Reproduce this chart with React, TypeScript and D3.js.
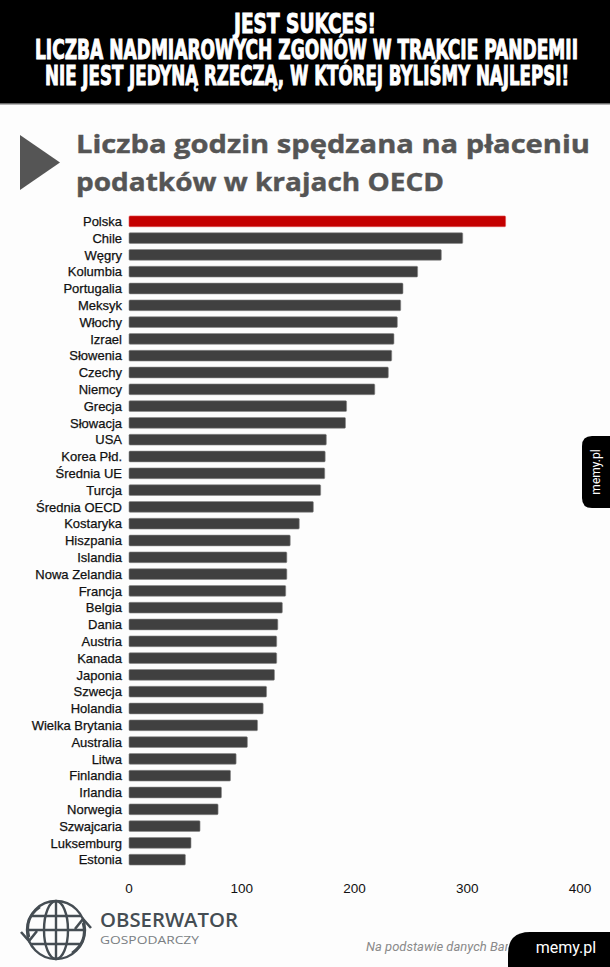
import React from "react";
import * as d3 from "d3";

const headerLines = [
  "JEST SUKCES!",
  "LICZBA NADMIAROWYCH ZGONÓW W TRAKCIE PANDEMII",
  "NIE JEST JEDYNĄ RZECZĄ, W KTÓREJ BYLIŚMY NAJLEPSI!",
];
const titleLines = ["Liczba godzin spędzana na płaceniu", "podatków w krajach OECD"];

const countries = [
  "Polska", "Chile", "Węgry", "Kolumbia", "Portugalia", "Meksyk", "Włochy", "Izrael",
  "Słowenia", "Czechy", "Niemcy", "Grecja", "Słowacja", "USA", "Korea Płd.", "Średnia UE",
  "Turcja", "Średnia OECD", "Kostaryka", "Hiszpania", "Islandia", "Nowa Zelandia", "Francja",
  "Belgia", "Dania", "Austria", "Kanada", "Japonia", "Szwecja", "Holandia", "Wielka Brytania",
  "Australia", "Litwa", "Finlandia", "Irlandia", "Norwegia", "Szwajcaria", "Luksemburg", "Estonia",
];
const hours = [
  334, 296, 277, 256, 243, 241, 238, 235,
  233, 230, 218, 193, 192, 175, 174, 173.6,
  170, 163.5, 151, 143, 140, 140, 139,
  136, 132, 131, 131, 129, 122, 119, 114,
  105, 95, 90, 82, 79, 63, 55, 50,
];
const highlight = ["Polska"];
const xTicks = [0, 100, 200, 300, 400];

export default function App() {
  const W = 610;
  const H = 967;
  const x = d3.scaleLinear().domain([0, 400]).range([129, 580]);
  const y = d3
    .scaleBand<string>()
    .domain(countries)
    .range([212.9, 868.1])
    .paddingInner(0.36)
    .paddingOuter(0.18);

  const headerFont = "'DejaVu Sans Condensed', 'Liberation Sans Narrow', 'Liberation Sans', sans-serif";
  const headerSpecs = [
    { x0: 234, x1: 376, base: 33 },
    { x0: 35, x1: 578, base: 59 },
    { x0: 45, x1: 569, base: 85 },
  ];
  const sx = 0.75;
  const sy = 1.22;

  return (
    <svg
      width={W}
      height={H}
      style={{ position: "absolute", left: 0, top: 0, background: "#fdfdfd" }}
    >
      <defs>
        <clipPath id="srcClip">
          <rect x={300} y={930} width={208} height={37} />
        </clipPath>
      </defs>
      <rect x={0} y={0} width={W} height={H} fill="#fdfdfd" />
      {/* header */}
      <rect x={0} y={0} width={W} height={103} fill="#000" />
      <rect x={0} y={103} width={W} height={1.5} fill="#6a6a6a" />
      {headerLines.map((t, i) => {
        const s = headerSpecs[i];
        return (
          <text
            key={i}
            transform={`translate(${s.x0},${s.base}) scale(${sx},${sy})`}
            x={0}
            y={0}
            textLength={(s.x1 - s.x0) / sx}
            lengthAdjust="spacingAndGlyphs"
            fill="#fff"
            stroke="#fff"
            strokeWidth={0.8}
            fontFamily={headerFont}
            fontWeight="bold"
            fontSize={21.5}
          >
            {t}
          </text>
        );
      })}

      {/* title */}
      <polygon points="20,135 60,162.5 20,190" fill="#555" />
      <text
        x={76}
        y={153}
        textLength={514}
        lengthAdjust="spacingAndGlyphs"
        fill="#555"
        stroke="#555"
        strokeWidth={0.4}
        fontFamily="'Open Sans', sans-serif"
        fontWeight="bold"
        fontSize={25}
      >
        {titleLines[0]}
      </text>
      <text
        x={76}
        y={191}
        textLength={368}
        lengthAdjust="spacingAndGlyphs"
        fill="#555"
        stroke="#555"
        strokeWidth={0.4}
        fontFamily="'Open Sans', sans-serif"
        fontWeight="bold"
        fontSize={25}
      >
        {titleLines[1]}
      </text>

      {/* bars */}
      {countries.map((c, i) => {
        const isHi = highlight.includes(c);
        return (
          <g key={c}>
            <rect
              x={x(0)}
              y={y(c)!}
              width={x(hours[i]) - x(0)}
              height={y.bandwidth()}
              fill={isHi ? "#c40000" : "#404040"}
              stroke={isHi ? "#e05050" : "#8a8a8a"}
              strokeWidth={0.6}
              rx={1}
            />
            <text
              x={122}
              y={y(c)! + y.bandwidth() / 2}
              dy="0.36em"
              textAnchor="end"
              fill="#111"
              stroke="#111"
              strokeWidth={0.25}
              fontFamily="'Liberation Sans', Arial, sans-serif"
              fontSize={13}
            >
              {c}
            </text>
          </g>
        );
      })}

      {/* x tick labels */}
      {xTicks.map((t) => (
        <text
          key={t}
          x={x(t)}
          y={893}
          textAnchor="middle"
          fill="#111"
          fontFamily="'Liberation Sans', Arial, sans-serif"
          fontSize={13.5}
        >
          {t}
        </text>
      ))}

      {/* logo */}
      <g stroke="#454d53" strokeWidth={2.4} fill="none">
        <circle cx={56} cy={930} r={29} />
        <ellipse cx={56} cy={930} rx={12} ry={29} />
        <line x1={56} y1={901} x2={56} y2={959} />
        <line x1={31} y1={916} x2={81} y2={916} />
        <line x1={27} y1={930} x2={85} y2={930} />
        <line x1={31} y1={944} x2={81} y2={944} />
        <path d="M40,907 Q24,918 29,937 M21,932 L29,941 L37,931" strokeWidth={2.6} />
        <path d="M72,953 Q88,942 83,923 M91,928 L83,919 L75,929" strokeWidth={2.6} />
      </g>
      <text
        x={100}
        y={927}
        textLength={138}
        lengthAdjust="spacingAndGlyphs"
        fill="#454d53"
        fontFamily="'Open Sans', sans-serif"
        fontWeight={600}
        fontSize={19.5}
      >
        OBSERWATOR
      </text>
      <text
        x={100}
        y={943.5}
        textLength={99}
        lengthAdjust="spacingAndGlyphs"
        fill="#7a7f83"
        fontFamily="'Open Sans', sans-serif"
        fontSize={11.5}
      >
        GOSPODARCZY
      </text>

      <text
        x={366}
        y={951}
        clipPath="url(#srcClip)"
        fill="#8a8a8a"
        fontFamily="Roboto, sans-serif"
        fontStyle="italic"
        fontSize={13}
      >
        Na podstawie danych Ban
      </text>

      {/* memy.pl badges */}
      <path d="M508,967 L508,954 Q508,932 530,932 L610,932 L610,967 Z" fill="#000" />
      <text
        x={566}
        y={953}
        textAnchor="middle"
        fill="#fff"
        fontFamily="Roboto, sans-serif"
        fontSize={16}
      >
        memy.pl
      </text>
      <path d="M610,436 L592,436 Q582,436 582,446 L582,498 Q582,508 592,508 L610,508 Z" fill="#000" />
      <text
        transform="translate(600,472) rotate(-90)"
        textAnchor="middle"
        fill="#fff"
        fontFamily="Roboto, sans-serif"
        fontSize={12}
      >
        memy.pl
      </text>
    </svg>
  );
}
